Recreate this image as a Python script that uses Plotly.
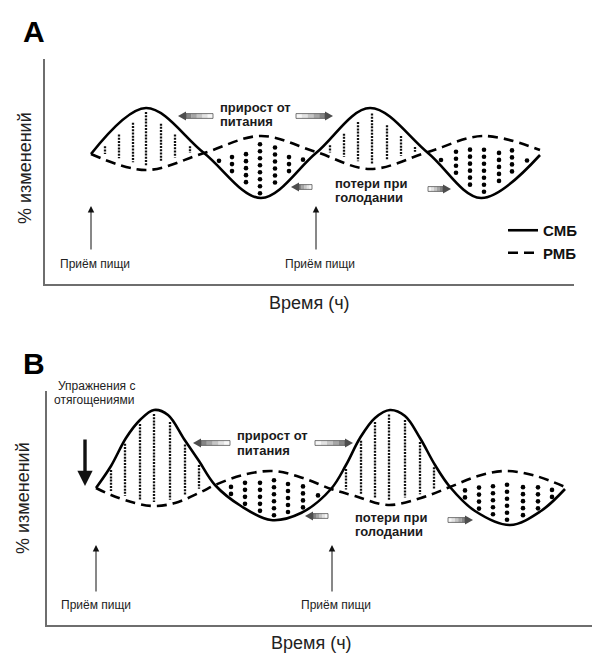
import numpy as np
import plotly.graph_objects as go

# ---------------- DATA ----------------
# Panel A: key points of the two curves (time units, % change units; axis drawn top-down)
a_smb_t = [83, 138, 196, 253, 308, 362, 420, 473, 532]
a_smb_v = [146, 100, 145, 190, 145, 100, 145, 190, 147]
a_rmb_t = [83, 138, 196, 253, 308, 362, 420, 475, 532]
a_rmb_v = [146, 162, 145, 128, 144, 161, 144, 128, 142]
a_gain_cols = [97, 111, 125, 138, 153, 167, 182, 322, 336, 350, 364, 379, 393, 407]
a_loss_cols = [211, 224, 238, 252, 267, 281, 295, 433, 448, 462, 476, 491, 504, 519]
a_meal_t = [83, 308]

# Panel B
b_smb_t = [88, 103, 118, 132, 146, 160, 176, 191, 207, 233, 263, 293, 323,
           338, 352, 367, 382, 397, 412, 427, 442, 467, 502, 533, 557]
b_smb_v = [480, 458, 430, 412, 402, 407, 431, 453, 477, 498, 512, 505, 481,
           457, 430, 410, 402, 408, 430, 457, 479, 503, 517, 503, 481]
b_rmb_t = [88, 103, 127, 146, 167, 193, 207, 235, 265, 295, 323, 347, 380,
           413, 442, 470, 498, 528, 557]
b_rmb_v = [480, 487, 495, 498, 495, 484, 477, 467, 463, 470, 481, 488, 497,
           490, 479, 468, 463, 468, 479]
b_gain_cols = [103, 117, 132, 146, 162, 177, 191, 338, 353, 367, 381, 397, 412, 426]
b_loss_cols = [223, 237, 252, 266, 280, 295, 310, 457, 471, 485, 499, 515, 530, 544]
b_meal_t = [88, 324]

series_names = ["СМБ", "РМБ"]

FONT = "Liberation Sans, Arial, sans-serif"


def column_lines(cols, t1, v1, t2, v2, inset=4):
    X, Y = [], []
    for c in cols:
        a = float(np.interp(c, t1, v1))
        b = float(np.interp(c, t2, v2))
        top, bot = min(a, b) + inset, max(a, b) - inset
        if bot > top:
            X += [c, c, None]
            Y += [top, bot, None]
    return X, Y


def column_dots(cols, t1, v1, t2, v2, inset_top=7, inset_bot=4, step=7):
    X, Y = [], []
    for c in cols:
        a = float(np.interp(c, t1, v1))
        b = float(np.interp(c, t2, v2))
        top, bot = min(a, b) + inset_top, max(a, b) - inset_bot
        ys = np.arange(bot, top - 0.01, -step)
        if len(ys) == 0:
            ys = [(a + b) / 2]
        for yv in ys:
            X.append(c)
            Y.append(float(yv))
    return X, Y


fig = go.Figure()


def add_panel(xa, ya, smb_t, smb_v, rmb_t, rmb_v, gain, loss, legend):
    gx, gy = column_lines(gain, smb_t, smb_v, rmb_t, rmb_v)
    fig.add_trace(go.Scatter(x=gx, y=gy, mode="lines", xaxis=xa, yaxis=ya,
                             line=dict(color="#111", width=2.3, dash="2px,1.2px"),
                             showlegend=False, hoverinfo="skip"))
    dx, dy = column_dots(loss, smb_t, smb_v, rmb_t, rmb_v)
    fig.add_trace(go.Scatter(x=dx, y=dy, mode="markers", xaxis=xa, yaxis=ya,
                             marker=dict(color="#000", size=4.6),
                             showlegend=False, hoverinfo="skip"))
    fig.add_trace(go.Scatter(x=smb_t, y=smb_v, mode="lines", name=series_names[0],
                             xaxis=xa, yaxis=ya,
                             line=dict(color="#000", width=2.6, shape="spline", smoothing=1.0),
                             showlegend=legend, hoverinfo="skip"))
    fig.add_trace(go.Scatter(x=rmb_t, y=rmb_v, mode="lines", name=series_names[1],
                             xaxis=xa, yaxis=ya,
                             line=dict(color="#000", width=2.6, dash="10px,6px",
                                       shape="spline", smoothing=1.0),
                             showlegend=legend, hoverinfo="skip"))


add_panel("x", "y", a_smb_t, a_smb_v, a_rmb_t, a_rmb_v, a_gain_cols, a_loss_cols, True)
add_panel("x2", "y2", b_smb_t, b_smb_v, b_rmb_t, b_rmb_v, b_gain_cols, b_loss_cols, False)

annotations = []
shapes = []


def text(x, y, s, xref, yref, size=13, bold=False, xanchor="left", color="#1a1a1a", angle=0):
    annotations.append(dict(x=x, y=y, text=s, xref=xref, yref=yref, showarrow=False,
                            xanchor=xanchor, yanchor="middle", textangle=angle,
                            font=dict(family=FONT, size=size, color=color,
                                      weight="bold" if bold else "normal")))


def block_arrow(x_tail, x_head, y, xref, yref):
    sign = 1 if x_head > x_tail else -1
    head_len, shaft_h, head_h = 8, 2.4, 4.6
    x_neck = x_head - sign * head_len
    greys = ["#f7f7f7", "#e2e2e2", "#c6c6c6", "#a6a6a6", "#858585"]
    n = len(greys)
    for i, g in enumerate(greys):
        xa = x_tail + (x_neck - x_tail) * i / n
        xb = x_tail + (x_neck - x_tail) * (i + 1) / n
        shapes.append(dict(type="rect", xref=xref, yref=yref, x0=xa, x1=xb,
                           y0=y - shaft_h, y1=y + shaft_h, fillcolor=g,
                           line=dict(width=0)))
    shapes.append(dict(type="rect", xref=xref, yref=yref, x0=x_tail, x1=x_neck,
                       y0=y - shaft_h, y1=y + shaft_h, line=dict(color="#555", width=0.8)))
    shapes.append(dict(type="path", xref=xref, yref=yref,
                       path=f"M {x_neck},{y - head_h} L {x_head},{y} L {x_neck},{y + head_h} Z",
                       fillcolor="#4d4d4d", line=dict(width=0)))


def up_arrow(x, tip, tail, xref, yref, width=1.0, size=1.3):
    annotations.append(dict(x=x, y=tip, ax=x, ay=tail, xref=xref, yref=yref,
                            axref=xref, ayref=yref, text="", showarrow=True,
                            arrowhead=2, arrowsize=size, arrowwidth=width,
                            arrowcolor="#111"))


W, H = 600, 659


def ptext(px, py, s, size, bold=False, angle=0, color="#111"):
    annotations.append(dict(x=px / W, y=1 - py / H, xref="paper", yref="paper", text=s,
                            showarrow=False, xanchor="center", yanchor="middle",
                            textangle=angle,
                            font=dict(family=FONT, size=size, color=color,
                                      weight="bold" if bold else "normal")))


# ----- Panel A annotations -----
text(210, 99, "прирост от", "x", "y", 13, True)
text(210, 113, "питания", "x", "y", 13, True)
text(325, 175, "потери при", "x", "y", 13, True)
text(325, 189, "голодании", "x", "y", 13, True)
block_arrow(205, 170, 108, "x", "y")
block_arrow(288, 325, 108, "x", "y")
block_arrow(304, 283, 179, "x", "y")
block_arrow(420, 443, 181, "x", "y")
for t in a_meal_t:
    up_arrow(t, 198, 243, "x", "y")
text(87, 256, "Приём пищи", "x", "y", 12, False, "center", "#222")
text(312, 256, "Приём пищи", "x", "y", 12, False, "center", "#222")

# ----- Panel B annotations -----
text(227, 427, "прирост от", "x2", "y2", 13, True)
text(227, 442, "питания", "x2", "y2", 13, True)
text(345, 509, "потери при", "x2", "y2", 13, True)
text(345, 523, "голодании", "x2", "y2", 13, True)
block_arrow(222, 185, 435, "x2", "y2")
block_arrow(307, 345, 435, "x2", "y2")
block_arrow(320, 297, 508, "x2", "y2")
block_arrow(440, 465, 512, "x2", "y2")
for t in b_meal_t:
    up_arrow(t, 537, 585, "x2", "y2")
text(88, 597, "Приём пищи", "x2", "y2", 12, False, "center", "#222")
text(328, 597, "Приём пищи", "x2", "y2", 12, False, "center", "#222")
ptext(88, 378, "Упражнения с", 12, color="#222")
ptext(86, 392, "отягощениями", 12, color="#222")
up_arrow(77, 478, 430, "x2", "y2", width=3.4, size=0.9)

# ----- panel letters & axis titles (paper coords) -----
ptext(26, 24, "A", 30, True, color="#000")
ptext(26, 355, "B", 30, True, color="#000")
ptext(17, 160, "% изменений", 18, angle=-90, color="#222")
ptext(15, 490, "% изменений", 18, angle=-90, color="#222")
ptext(301, 295, "Время (ч)", 18, color="#222")
ptext(303, 635, "Время (ч)", 18, color="#222")

axis_common = dict(showgrid=False, zeroline=False, showticklabels=False, ticks="",
                   showline=True, linecolor="#6e6e6e", linewidth=1.5, fixedrange=True)

fig.update_layout(
    width=W, height=H,
    margin=dict(l=0, r=0, t=0, b=0),
    paper_bgcolor="white", plot_bgcolor="white",
    xaxis=dict(domain=[37 / W, 566 / W], range=[37, 566], anchor="y", **axis_common),
    yaxis=dict(domain=[1 - 276 / H, 1 - 51 / H], range=[276, 51], anchor="x", **axis_common),
    xaxis2=dict(domain=[39 / W, 592 / W], range=[39, 592], anchor="y2", **axis_common),
    yaxis2=dict(domain=[1 - 617 / H, 1 - 383 / H], range=[617, 383], anchor="x2", **axis_common),
    legend=dict(x=495 / W, y=1 - 206 / H, xanchor="left", yanchor="top",
                bgcolor="rgba(0,0,0,0)", tracegroupgap=0,
                font=dict(family=FONT, size=15, color="#111", weight="bold")),
    annotations=annotations,
    shapes=shapes,
    showlegend=True,
)

fig.write_html("out.html")
